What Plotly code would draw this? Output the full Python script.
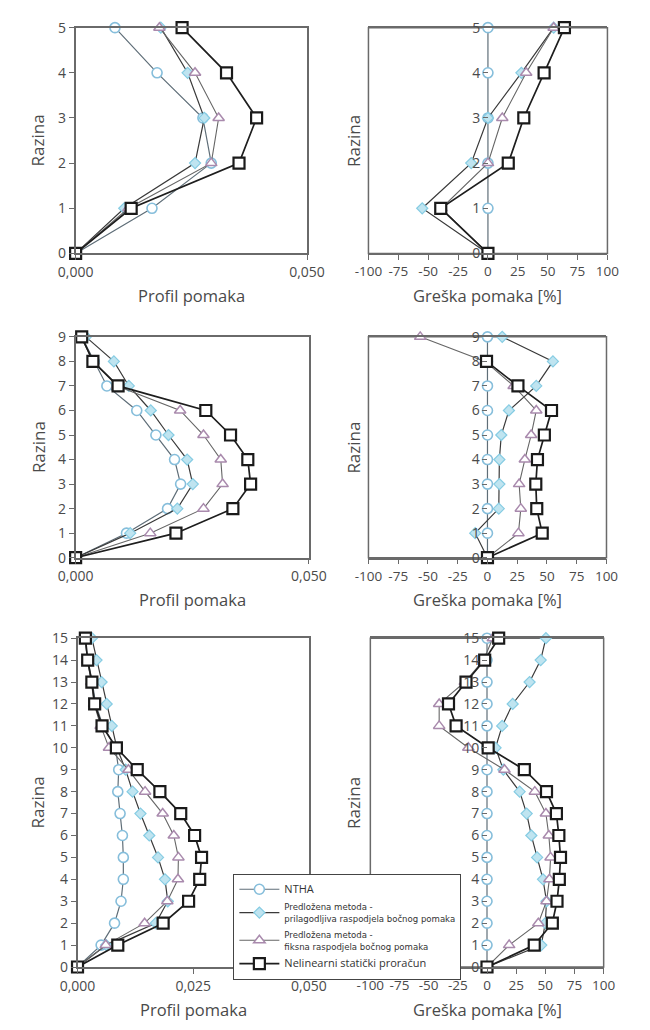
import plotly.graph_objects as go

W, H = 650, 1030

# ---------------- DATA ----------------
series_names = [
    "NTHA",
    "Predložena metoda -<br>prilagodljiva raspodjela bočnog pomaka",
    "Predložena metoda -<br>fiksna raspodjela bočnog pomaka",
    "Nelinearni statički proračun",
]

lv5 = [0, 1, 2, 3, 4, 5]
lv9 = [0, 1, 2, 3, 4, 5, 6, 7, 8, 9]
lv15 = [0, 1, 2, 3, 4, 5, 6, 7, 8, 9, 10, 11, 12, 13, 14, 15]

# 5 levels - displacement profile
p5_ntha = [0, 0.0165, 0.0293, 0.0275, 0.0176, 0.0085]
p5_adapt = [0, 0.0105, 0.0258, 0.0278, 0.0242, 0.0184]
p5_fixed = [0, 0.0114, 0.0293, 0.0309, 0.0258, 0.0181]
p5_nsp = [0, 0.0120, 0.0353, 0.0391, 0.0326, 0.0230]
# 5 levels - error [%]
e5_ntha = [0, 0, 0, 0, 0, 0]
e5_adapt = [0, -55, -14, 0, 28, 55]
e5_fixed = [0, -39, 0, 12, 32, 55]
e5_nsp = [0, -39.5, 17, 30, 47, 64]

# 9 levels - displacement profile
p9_ntha = [0, 0.0109, 0.0197, 0.0225, 0.0212, 0.0172, 0.0131, 0.0067, 0.0040, 0.0013]
p9_adapt = [0, 0.0117, 0.0218, 0.0251, 0.0239, 0.0199, 0.0161, 0.0114, 0.0082, 0.0022]
p9_fixed = [0, 0.0160, 0.0274, 0.0315, 0.0311, 0.0274, 0.0224, 0.0089, 0.0038, 0.0011]
p9_nsp = [0, 0.0215, 0.0337, 0.0375, 0.0369, 0.0332, 0.0279, 0.0091, 0.0037, 0.0013]
# 9 levels - error [%]
e9_ntha = [0, 0, 0, 0, 0, 0, 0, 0, 0, 0]
e9_adapt = [0, -10.3, 9.5, 10, 10, 11.6, 18, 41, 55, 12.4]
e9_fixed = [0, 26, 28, 26.6, 31.4, 36.7, 41, 22, -2, -56.5]
e9_nsp = [0, 46, 41.4, 40.6, 42, 47.8, 53.8, 25.6, -0.8, None]

# 15 levels - displacement profile
p15_ntha = [0, 0.0051, 0.0080, 0.0094, 0.0099, 0.0099, 0.0097, 0.0092, 0.0087,
            0.0089, 0.0082, 0.0055, 0.0039, 0.0032, 0.0022, 0.0016]
p15_adapt = [0, 0.0062, 0.0169, 0.0195, 0.0189, 0.0174, 0.0155, 0.0136, 0.0119,
             0.0104, 0.0085, 0.0074, 0.0063, 0.0052, 0.0041, 0.0031]
p15_fixed = [0, 0.0061, 0.0145, 0.0194, 0.0217, 0.0218, 0.0208, 0.0184, 0.0146,
             0.0110, 0.0068, 0.0050, 0.0036, 0.0030, 0.0021, 0.0017]
p15_nsp = [0, 0.0087, 0.0185, 0.0240, 0.0264, 0.0268, 0.0253, 0.0223, 0.0178,
           0.0129, 0.0084, 0.0053, 0.0037, 0.0031, 0.0022, 0.0017]
# 15 levels - error [%]
e15_ntha = [0] * 16
e15_adapt = [0, 46.5, 50, 51, 48, 43, 38, 34, 28, 14, 7.3, 13, 22, 36.5, 46, 50.5]
e15_fixed = [0, 19, 44, 51, 53.5, 54.5, 53, 50.5, 41, 15, -16, -41, -41, -19, -3, 5]
e15_nsp = [0, 40.5, 56, 60, 62, 63, 61.6, 59.5, 51, 32, 1, -26.5, -33, -18, -2, 10]

prof_ticks_short = [0, 0.05]
prof_ticks_long = [0, 0.025, 0.05]
err_ticks = [-100, -75, -50, -25, 0, 25, 50, 75, 100]
err_ticktext = [str(v) for v in err_ticks]  # plain hyphen minus

x_title_prof = "Profil pomaka"
x_title_err = "Greška pomaka [%]"
y_title = "Razina"

# ---------------- STYLE ----------------
FONT = "Open Sans, Roboto, DejaVu Sans, sans-serif"
TXT = "#4a4a4a"
FRAME = "#6a6a6a"

styles = [
    dict(mode="lines+markers", line=dict(color="#5f6e78", width=1.2),
         marker=dict(symbol="circle", size=10, color="white",
                     line=dict(color="#86bedb", width=1.6))),
    dict(mode="lines+markers", line=dict(color="#3a3a3a", width=1.2),
         marker=dict(symbol="diamond", size=8.5, color="#bfe4f0",
                     line=dict(color="#86cce3", width=1.2))),
    dict(mode="lines+markers", line=dict(color="#666666", width=1.1),
         marker=dict(symbol="triangle-up", size=10, color="white",
                     line=dict(color="#a98aad", width=1.5))),
    dict(mode="lines+markers", line=dict(color="#1e1e1e", width=1.7),
         marker=dict(symbol="square", size=11, color="white",
                     line=dict(color="#1a1a1a", width=2.2))),
]

# wider text for the single-line legend entries
wide = '<span style="font-family:Open Sans, Roboto, sans-serif;font-size:11px">{}</span>'
legend_labels = [
    wide.format(series_names[0]),
    series_names[1],
    series_names[2],
    wide.format(series_names[3]),
]

def px_x(p):
    return p / W

def px_y(p):
    return 1 - p / H

# subplot boxes in pixel coords: (left, right, top, bottom)
boxes = {
    1: (61, 306, 18, 248),
    2: (371, 624, 18, 248),
    3: (61, 308, 333, 558),
    4: (371, 623, 333, 558),
    5: (63, 308, 640, 975),
    6: (373, 620, 640, 975),
}

fig = go.Figure()

panels = [
    (1, lv5, [p5_ntha, p5_adapt, p5_fixed, p5_nsp], "prof", prof_ticks_short, 5),
    (2, lv5, [e5_ntha, e5_adapt, e5_fixed, e5_nsp], "err", err_ticks, 5),
    (3, lv9, [p9_ntha, p9_adapt, p9_fixed, p9_nsp], "prof", prof_ticks_short, 9),
    (4, lv9, [e9_ntha, e9_adapt, e9_fixed, e9_nsp], "err", err_ticks, 9),
    (5, lv15, [p15_ntha, p15_adapt, p15_fixed, p15_nsp], "prof", prof_ticks_long, 15),
    (6, lv15, [e15_ntha, e15_adapt, e15_fixed, e15_nsp], "err", err_ticks, 15),
]

layout = {}
shapes = []
annotations = []

for idx, levels, data, kind, xticks, nmax in panels:
    sfx = "" if idx == 1 else str(idx)
    xa, ya = "x" + sfx, "y" + sfx
    for si, vals in enumerate(data):
        st = styles[si]
        fig.add_trace(go.Scatter(
            x=vals, y=levels, xaxis=xa, yaxis=ya,
            name=legend_labels[si],
            showlegend=(idx == 5), cliponaxis=False,
            mode=st["mode"], line=st["line"], marker=st["marker"],
            connectgaps=False,
        ))
    l, r, t, b = boxes[idx]
    xdom = [px_x(l), px_x(r)]
    ydom = [px_y(b), px_y(t)]
    if kind == "prof":
        layout["xaxis" + sfx] = dict(
            domain=xdom, anchor=ya, range=[0, 0.05], tickvals=xticks,
            tickformat=".3f", tickangle=0, showgrid=False, zeroline=False,
            showline=True, mirror=True, linecolor=FRAME, linewidth=1.5,
            ticks="outside", ticklen=5, tickcolor=FRAME,
            tickfont=dict(family=FONT, size=14, color=TXT),
        )
        layout["yaxis" + sfx] = dict(
            domain=ydom, anchor=xa, range=[0, nmax], dtick=1,
            showgrid=False, zeroline=False,
            showline=True, mirror=True, linecolor=FRAME, linewidth=1.5,
            ticks="outside", ticklen=5, tickcolor=FRAME,
            tickfont=dict(family=FONT, size=14, color=TXT),
        )
        ytitle_x = 21
        xtitle = x_title_prof
    else:
        layout["xaxis" + sfx] = dict(
            domain=xdom, anchor=ya, range=[-100, 100], tickvals=xticks,
            ticktext=err_ticktext, tickangle=0,
            showgrid=False, zeroline=False,
            showline=True, mirror=True, linecolor=FRAME, linewidth=1.5,
            ticks="outside", ticklen=5, tickcolor=FRAME,
            tickfont=dict(family=FONT, size=13.5, color=TXT),
        )
        layout["yaxis" + sfx] = dict(
            domain=ydom, anchor="free", position=(xdom[0] + xdom[1]) / 2,
            range=[0, nmax], dtick=1, showgrid=False, zeroline=False,
            showline=False, ticks="outside", ticklen=5, tickcolor=FRAME,
            tickfont=dict(family=FONT, size=14, color=TXT),
        )
        shapes.append(dict(type="rect", xref=xa + " domain", yref=ya + " domain",
                           x0=0, x1=1, y0=0, y1=1,
                           line=dict(color=FRAME, width=1.5), layer="below"))
        ytitle_x = 355
        xtitle = x_title_err
    annotations.append(dict(
        text=y_title, textangle=-90, xref="paper", yref="paper",
        x=px_x(ytitle_x), y=(ydom[0] + ydom[1]) / 2, showarrow=False,
        xanchor="center", yanchor="middle",
        font=dict(family=FONT, size=17, color=TXT)))
    annotations.append(dict(
        text=xtitle, xref="paper", yref="paper",
        x=(xdom[0] + xdom[1]) / 2, y=px_y(b + 43), showarrow=False,
        xanchor="center", yanchor="middle",
        font=dict(family=FONT, size=16.5, color=TXT)))

fig.update_layout(
    width=W, height=H, margin=dict(l=0, r=0, t=0, b=0),
    paper_bgcolor="white", plot_bgcolor="white",
    separators=",.",
    shapes=shapes, annotations=annotations,
    legend=dict(
        x=px_x(228), y=px_y(880), xanchor="left", yanchor="top",
        bgcolor="white", bordercolor="#444444", borderwidth=1,
        font=dict(family="Liberation Sans Narrow, DejaVu Sans Condensed, Roboto, sans-serif",
                  size=9.5, color="#333333"),
        itemwidth=40, tracegroupgap=0, traceorder="normal",
    ),
    **layout,
)

fig.write_html("out.html")
